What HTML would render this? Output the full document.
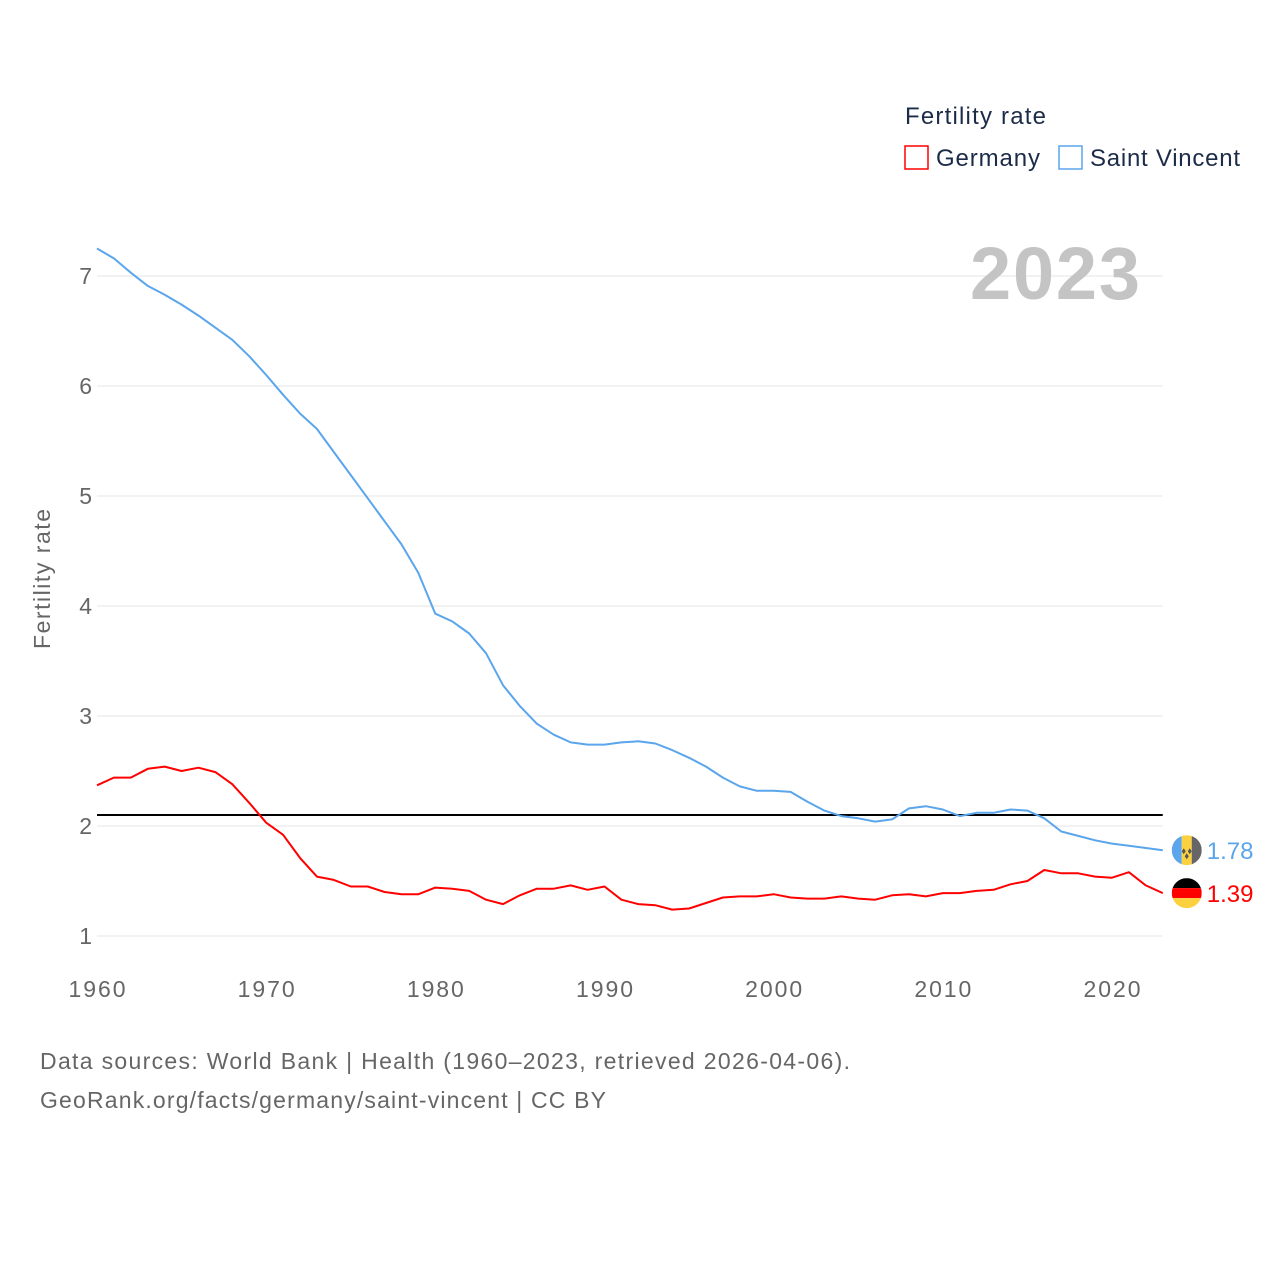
<!DOCTYPE html>
<html><head><meta charset="utf-8"><style>
html,body{margin:0;padding:0;background:#fff;}
svg{display:block;font-family:"Liberation Sans",sans-serif;}
</style></head><body>
<svg id="chart" width="1280" height="1280" viewBox="0 0 1280 1280">
<g id="grid"></g>
<g id="yticks"></g>
<g id="xticks"></g>
<text x="50" y="579" transform="rotate(-90 50 579)" text-anchor="middle" font-size="23" fill="#666" textLength="140">Fertility rate</text>
<text x="1140" y="299" text-anchor="end" font-size="74" font-weight="bold" fill="#c4c4c4" textLength="170">2023</text>
<g id="lines"></g>
<g>
<text x="905" y="124" font-size="24" fill="#1c2c48" textLength="141">Fertility rate</text>
<g><rect x="905" y="146" width="23" height="23" fill="none" stroke="#ff0000" stroke-width="1.5"/><text x="936" y="166" font-size="24" fill="#1c2c48" textLength="104">Germany</text></g>
<g><rect x="1059" y="146" width="23" height="23" fill="none" stroke="#5aa5ec" stroke-width="1.5"/><text x="1090" y="166" font-size="24" fill="#1c2c48" textLength="150">Saint Vincent</text></g>
</g>
<text x="40" y="1069" font-size="23" fill="#666" textLength="810">Data sources: World Bank | Health (1960–2023, retrieved 2026-04-06).</text>
<text x="40" y="1108" font-size="23" fill="#666" textLength="566">GeoRank.org/facts/germany/saint-vincent | CC BY</text>
</svg>
<script>
const years = [];
for (let y = 1960; y <= 2023; y++) years.push(y);
const germany = [2.37,2.44,2.44,2.52,2.54,2.50,2.53,2.49,2.38,2.21,2.03,1.92,1.71,1.54,1.51,1.45,1.45,1.40,1.38,1.38,1.44,1.43,1.41,1.33,1.29,1.37,1.43,1.43,1.46,1.42,1.45,1.33,1.29,1.28,1.24,1.25,1.30,1.35,1.36,1.36,1.38,1.35,1.34,1.34,1.36,1.34,1.33,1.37,1.38,1.36,1.39,1.39,1.41,1.42,1.47,1.50,1.60,1.57,1.57,1.54,1.53,1.58,1.46,1.39];
const saintVincent = [7.25,7.16,7.03,6.91,6.83,6.74,6.64,6.53,6.42,6.27,6.10,5.92,5.75,5.61,5.40,5.19,4.98,4.77,4.56,4.30,3.93,3.86,3.75,3.57,3.28,3.09,2.93,2.83,2.76,2.74,2.74,2.76,2.77,2.75,2.69,2.62,2.54,2.44,2.36,2.32,2.32,2.31,2.22,2.14,2.09,2.07,2.04,2.06,2.16,2.18,2.15,2.09,2.12,2.12,2.15,2.14,2.07,1.95,1.91,1.87,1.84,1.82,1.80,1.78];
const yTicks = [1,2,3,4,5,6,7];
const xTicks = [1960,1970,1980,1990,2000,2010,2020];
const replacement = 2.1;
const NS = "http://www.w3.org/2000/svg";
const X = v => 97 + (v - 1960) * (1112 - 97) / 60;
const Y = v => 936 - (v - 1) * 110;
function mk(tag, attrs, parent) { const e = document.createElementNS(NS, tag); for (const k in attrs) e.setAttribute(k, attrs[k]); parent.appendChild(e); return e; }
const grid = document.getElementById('grid'), yt = document.getElementById('yticks'), xt = document.getElementById('xticks'), lines = document.getElementById('lines');
yTicks.forEach(t => {
  const l = mk('line', {x1: 97, x2: X(2023), y1: Y(t), y2: Y(t), stroke: '#e6e6e6', 'stroke-width': 1}, grid);
  
  
  const tx = mk('text', {x: 92, y: Y(t) + 8, 'text-anchor': 'end', 'font-size': 23, fill: '#666'}, yt);
  tx.textContent = t;
  
  
});
xTicks.forEach(t => {
  const tx = mk('text', {x: X(t), y: 997, 'text-anchor': 'middle', 'font-size': 23, fill: '#666', textLength: 57}, xt);
  tx.textContent = t;
  
  
});
const ref = mk('line', {x1: 97, x2: X(2023), y1: Y(replacement), y2: Y(replacement), stroke: '#000', 'stroke-width': 2}, lines);


function path(vals, color, name) {
  const d = vals.map((v, i) => (i ? 'L' : 'M') + X(years[i]).toFixed(1) + ',' + Y(v).toFixed(1)).join('');
  const p = mk('path', {d: d, fill: 'none', stroke: color, 'stroke-width': 2, 'stroke-linejoin': 'round'}, lines);
  
  
}
path(saintVincent, '#5aa5ec', 'line-saint-vincent');
path(germany, '#ff0000', 'line-germany');
const ex = X(2023) + 24;
const svY = Y(saintVincent[saintVincent.length - 1]);
const deY = Y(germany[germany.length - 1]);
const defs = mk('defs', {}, lines);
const c1 = mk('clipPath', {id: 'c1'}, defs); mk('circle', {cx: ex, cy: svY, r: 15}, c1);
const c2 = mk('clipPath', {id: 'c2'}, defs); mk('circle', {cx: ex, cy: deY, r: 15}, c2);
const f1 = mk('g', {'clip-path': 'url(#c1)'}, lines);


mk('rect', {x: ex - 15, y: svY - 15, width: 10, height: 30, fill: '#5aa5ec'}, f1);
mk('rect', {x: ex - 5, y: svY - 15, width: 10, height: 30, fill: '#fcd13f'}, f1);
mk('rect', {x: ex + 5, y: svY - 15, width: 10, height: 30, fill: '#666'}, f1);
mk('path', {d: `M${ex-3},${svY-2}l2,3l-2,3l-2,-3zM${ex+3},${svY-2}l2,3l-2,3l-2,-3zM${ex},${svY+3}l2,3l-2,3l-2,-3z`, fill: '#555'}, f1);
const f2 = mk('g', {'clip-path': 'url(#c2)'}, lines);


mk('rect', {x: ex - 15, y: deY - 15, width: 30, height: 10, fill: '#000'}, f2);
mk('rect', {x: ex - 15, y: deY - 5, width: 30, height: 10, fill: '#ff0000'}, f2);
mk('rect', {x: ex - 15, y: deY + 5, width: 30, height: 10, fill: '#fcd13f'}, f2);
const l1 = mk('text', {x: ex + 20, y: svY + 9, 'font-size': 24, fill: '#5aa5ec'}, lines);
l1.textContent = saintVincent[saintVincent.length - 1].toFixed(2);


const l2 = mk('text', {x: ex + 20, y: deY + 9, 'font-size': 24, fill: '#ff0000'}, lines);
l2.textContent = germany[germany.length - 1].toFixed(2);


</script>
</body></html>
